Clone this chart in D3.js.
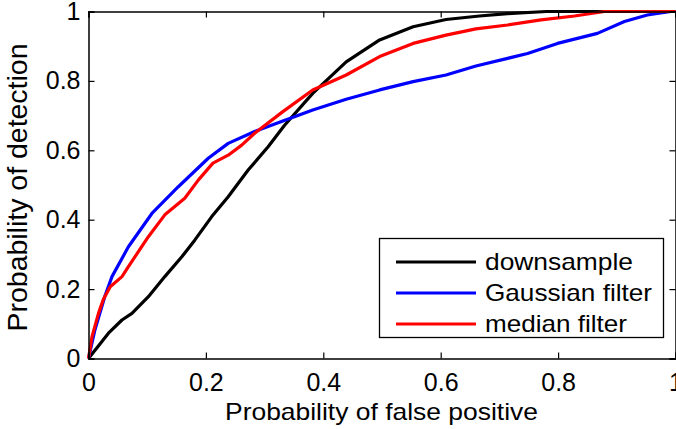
<!DOCTYPE html>
<html>
<head>
<meta charset="utf-8">
<script src="https://cdn.jsdelivr.net/npm/d3@7"></script>
<style>
  html, body { margin: 0; padding: 0; background: #fff; }
  svg { display: block; font-family: "Liberation Sans", Arial, sans-serif; }
</style>
</head>
<body>
<svg id="chart" width="676" height="429"></svg>
<script>
// ROC curves: probability of false positive vs probability of detection
const seriesNames = ["downsample", "Gaussian filter", "median filter"];
const seriesColors = ["#000000", "#0000ff", "#ff0000"];

const downsampleFP = [0, 0.034, 0.057, 0.074, 0.102, 0.13, 0.159, 0.181, 0.21, 0.238, 0.272, 0.306, 0.334, 0.382, 0.439, 0.496, 0.553, 0.609, 0.666, 0.714, 0.78, 1];
const downsamplePD = [0, 0.073, 0.111, 0.13, 0.178, 0.236, 0.293, 0.341, 0.409, 0.466, 0.543, 0.61, 0.672, 0.764, 0.855, 0.918, 0.956, 0.977, 0.987, 0.994, 1, 1];

const gaussianFP = [0, 0.011, 0.028, 0.04, 0.068, 0.108, 0.153, 0.204, 0.238, 0.283, 0.33, 0.382, 0.439, 0.496, 0.553, 0.609, 0.66, 0.714, 0.748, 0.799, 0.867, 0.913, 0.952, 0.992, 1];
const gaussianPD = [0, 0.083, 0.18, 0.236, 0.322, 0.418, 0.495, 0.577, 0.62, 0.654, 0.684, 0.716, 0.747, 0.774, 0.798, 0.817, 0.843, 0.865, 0.879, 0.908, 0.937, 0.971, 0.99, 1, 1];

const medianFP = [0, 0.006, 0.017, 0.025, 0.037, 0.057, 0.068, 0.102, 0.13, 0.164, 0.187, 0.212, 0.238, 0.261, 0.283, 0.33, 0.382, 0.439, 0.496, 0.553, 0.609, 0.66, 0.714, 0.771, 0.828, 0.879, 1];
const medianPD = [0, 0.063, 0.13, 0.169, 0.207, 0.236, 0.265, 0.351, 0.414, 0.462, 0.514, 0.563, 0.586, 0.615, 0.649, 0.71, 0.774, 0.817, 0.87, 0.908, 0.932, 0.95, 0.961, 0.976, 0.987, 1, 1];

const tickValues = [0, 0.2, 0.4, 0.6, 0.8, 1];
const tickLabels = ["0", "0.2", "0.4", "0.6", "0.8", "1"];
const xTitle = "Probability of false positive";
const yTitle = "Probability of detection";

const svg = d3.select("#chart");
const plotLeft = 88.5, plotRight = 675.5, plotTop = 11.5, plotBottom = 358.5;
const x = d3.scaleLinear().domain([0, 1]).range([plotLeft, plotRight]);
const y = d3.scaleLinear().domain([0, 1]).range([plotBottom, plotTop]);
const tickFont = 25;

// curves
const series = [
  { fp: downsampleFP, pd: downsamplePD },
  { fp: gaussianFP, pd: gaussianPD },
  { fp: medianFP, pd: medianPD }
];
const line = d3.line().x(d => x(d[0])).y(d => y(d[1]));
svg.append("clipPath").attr("id", "plotclip")
  .append("rect").attr("x", plotLeft - 2).attr("y", plotTop - 2)
  .attr("width", plotRight - plotLeft + 4).attr("height", plotBottom - plotTop + 4);
series.forEach((s, i) => {
  svg.append("path")
    .datum(s.fp.map((v, j) => [v, s.pd[j]]))
    .attr("d", line)
    .attr("fill", "none")
    .attr("stroke", seriesColors[i])
    .attr("stroke-width", 3.2)
    .attr("stroke-linejoin", "round")
    .attr("clip-path", "url(#plotclip)");
});

// box axes with inward ticks on all four sides
const tickLen = 6;
const axisBottom = d3.axisBottom(x).tickValues(tickValues).tickSize(-tickLen).tickPadding(15)
  .tickFormat((d, i) => tickLabels[i]);
const axisLeft = d3.axisLeft(y).tickValues(tickValues).tickSize(-tickLen).tickPadding(8)
  .tickFormat((d, i) => tickLabels[i]);
const axisTop = d3.axisTop(x).tickValues(tickValues).tickSize(-tickLen).tickFormat("");
const axisRight = d3.axisRight(y).tickValues(tickValues).tickSize(-tickLen).tickFormat("");

function styleAxis(g) {
  g.select(".domain").attr("stroke", "#000").attr("stroke-width", 1.5);
  g.selectAll(".tick line").attr("stroke", "#000").attr("stroke-width", 1.2);
  g.selectAll(".tick text").attr("fill", "#000").style("font-size", tickFont + "px")
    .style("font-family", '"Liberation Sans", Arial, sans-serif');
}
svg.append("g").attr("transform", `translate(0,${plotBottom})`).call(axisBottom).call(styleAxis);
svg.append("g").attr("transform", `translate(${plotLeft},0)`).call(axisLeft).call(styleAxis);
svg.append("g").attr("transform", `translate(0,${plotTop})`).call(axisTop).call(styleAxis);
svg.append("g").attr("transform", `translate(${plotRight},0)`).call(axisRight).call(styleAxis);

// axis titles
svg.append("text")
  .attr("x", 381.5).attr("y", 420)
  .attr("text-anchor", "middle").style("font-size", "24px")
  .attr("textLength", 313).attr("lengthAdjust", "spacingAndGlyphs")
  .text(xTitle);
svg.append("text")
  .attr("transform", `translate(27,187.5) rotate(-90)`)
  .attr("text-anchor", "middle").style("font-size", "28px")
  .attr("textLength", 288).attr("lengthAdjust", "spacingAndGlyphs")
  .text(yTitle);

// legend
const lg = svg.append("g");
lg.append("rect")
  .attr("x", 379.5).attr("y", 238.5).attr("width", 284).attr("height", 99)
  .attr("fill", "#fff").attr("stroke", "#000").attr("stroke-width", 1.3);
const rowY = [262, 293, 324];
const legendTextWidth = [148, 167, 142];
seriesNames.forEach((name, i) => {
  lg.append("line")
    .attr("x1", 396).attr("x2", 476).attr("y1", rowY[i]).attr("y2", rowY[i])
    .attr("stroke", seriesColors[i]).attr("stroke-width", 3.2);
  lg.append("text")
    .attr("x", 485).attr("y", rowY[i] + 7.5)
    .style("font-size", "24px")
    .attr("textLength", legendTextWidth[i]).attr("lengthAdjust", "spacingAndGlyphs")
    .text(name);
});
</script>
</body>
</html>
